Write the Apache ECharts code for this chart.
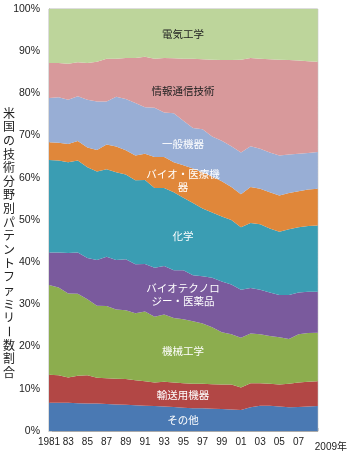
<!DOCTYPE html>
<html>
<head>
<meta charset="utf-8">
<script src="https://cdn.jsdelivr.net/npm/echarts@6/dist/echarts.min.js"></script>
<style>
html,body{margin:0;padding:0;background:#fff;}
#c{width:350px;height:456px;}
</style>
</head>
<body>
<div id="c"></div>
<script>
const years = ['1981','1982','1983','1984','1985','1986','1987','1988','1989','1990','1991','1992','1993','1994','1995','1996','1997','1998','1999','2000','2001','2002','2003','2004','2005','2006','2007','2008','2009'];

const others      = [6.7,6.7,6.7,6.6,6.5,6.5,6.4,6.3,6.2,6.1,6.0,5.9,5.8,5.7,5.5,5.4,5.4,5.3,5.2,5.1,5.0,5.6,6.0,6.0,5.8,5.6,5.7,5.8,5.9];
const transport   = [6.6,6.5,6.0,6.5,6.7,6.1,6.1,6.1,6.1,5.9,5.8,5.6,5.9,5.8,5.8,5.8,5.8,5.8,5.8,5.9,5.3,5.7,5.3,5.2,5.2,5.6,5.8,5.9,5.9];
const mechanical  = [21.3,20.8,19.9,19.4,18.0,17.1,17.1,16.4,16.3,15.9,16.5,15.6,15.9,15.3,15.2,14.8,14.3,13.5,12.4,11.9,11.8,11.8,11.6,11.3,11.2,10.6,11.4,11.5,11.5];
const biotechPharma = [7.7,8.3,9.6,9.8,9.8,10.8,11.7,11.7,12.1,11.6,11.3,11.6,11.5,11.3,11.6,10.9,11.2,11.7,12.0,11.8,11.4,10.8,10.6,10.3,10.0,10.4,9.9,9.8,9.7];
const chemistry   = [21.9,21.8,21.5,21.8,21.5,21.0,20.7,20.8,20.1,19.9,19.9,18.9,18.5,18.5,17.2,17.1,16.0,15.5,15.4,15.3,14.8,15.4,15.5,15.2,15.0,15.6,15.5,15.6,15.7];
const bioMedical  = [4.2,4.2,4.3,4.6,4.7,5.1,5.9,6.1,5.7,5.9,6.2,7.3,7.3,7.1,7.7,8.2,8.6,8.5,8.4,7.8,7.8,8.5,8.4,8.6,8.6,8.6,8.5,8.6,8.7];
const generalMach = [10.5,10.8,10.5,10.6,11.3,11.5,10.2,11.8,12.2,12.4,11.0,11.7,10.6,11.6,10.5,9.6,10.2,9.5,9.6,9.7,9.9,9.7,9.5,9.4,9.5,9.1,8.9,8.7,8.7];
const ict         = [8.3,8.1,8.5,8.1,8.7,9.4,10.1,9.0,9.7,10.7,12.0,11.6,12.9,13.0,14.7,16.4,16.6,18.2,19.1,20.4,22.0,20.9,21.3,22.1,22.7,22.4,22.1,21.7,21.4];
const electrical  = [12.8,12.8,13.0,12.6,12.8,12.5,11.8,11.8,11.6,11.6,11.3,11.8,11.6,11.7,11.8,11.8,11.9,12.0,12.1,12.1,12.0,11.6,11.8,11.9,12.0,12.1,12.2,12.4,12.5];

const seriesNames = ['その他','輸送用機器','機械工学','バイオテクノロジー・医薬品','化学','バイオ・医療機器','一般機器','情報通信技術','電気工学'];
const yAxisTitle = '米国の技術分野別パテントファミリー数割合';
const lastYearLabel = '2009年';

const seriesData = [others, transport, mechanical, biotechPharma, chemistry, bioMedical, generalMach, ict, electrical];
const colors = ['#4a79b3','#b24745','#8cad4e','#7a5a9d','#3a9db3','#e0873a','#98aed5','#d8999b','#bdd59b'];

// in-area labels: [text, y-center, color]
const areaLabels = [
  ['電気工学', 34, '#222'],
  ['情報通信技術', 91, '#222'],
  ['一般機器', 144, '#fff'],
  ['バイオ・医療機\n器', 181, '#fff'],
  ['化学', 236, '#fff'],
  ['バイオテクノロ\nジー・医薬品', 295, '#fff'],
  ['機械工学', 351, '#fff'],
  ['輸送用機器', 395, '#fff'],
  ['その他', 420, '#fff']
];

const chart = echarts.init(document.getElementById('c'), null, {renderer:'canvas'});

const graphics = [];
areaLabels.forEach(function(l){
  graphics.push({
    type:'text', x:183, y:l[1], z:100,
    style:{text:l[0], fill:l[2], align:'center', verticalAlign:'middle',
      fontSize:10.5, fontFamily:'"Noto Sans CJK JP", sans-serif', lineHeight:13}
  });
});
Array.from(yAxisTitle).forEach(function(ch, i){
  graphics.push({
    type:'text', x:9, y:113 + i*13.65, rotation: ch === 'ー' ? -Math.PI/2 : 0,
    style:{text:ch, fill:'#222', align:'center', verticalAlign:'middle',
      fontSize:12, fontFamily:'"Noto Sans CJK JP", sans-serif'}
  });
});

chart.setOption({
  animation:false,
  color: colors,
  grid:{left:49, right:32, top:9, bottom:25, show:true, borderColor:'#bbb', borderWidth:1},
  xAxis:{
    type:'category', data:years, boundaryGap:false,
    axisLine:{lineStyle:{color:'#aaa'}},
    axisTick:{show:true, inside:true, length:3, interval:0, lineStyle:{color:'#ccc'}},
    axisLabel:{interval:1, color:'#222', fontSize:10, margin:6,
      fontFamily:'"Liberation Sans", Arial, sans-serif',
      formatter:function(v, i){ if (i===0) return v; if (v==='2009') return ''; return v.slice(2); }},
    name: lastYearLabel, nameLocation:'end', nameGap:-3,
    nameTextStyle:{color:'#222', fontSize:10, align:'left', verticalAlign:'top', padding:[11,0,0,0],
      fontFamily:'"Liberation Sans", "Noto Sans CJK JP", sans-serif'}
  },
  yAxis:{
    type:'value', min:0, max:100, interval:10,
    splitLine:{show:false},
    axisLine:{show:true, lineStyle:{color:'#aaa'}},
    axisTick:{show:true, inside:true, length:3, lineStyle:{color:'#ccc'}},
    axisLabel:{formatter:'{value}%', color:'#222', fontSize:10.5, margin:9,
      fontFamily:'"Liberation Sans", Arial, sans-serif'}
  },
  series: seriesNames.map(function(n, i){
    return {
      name:n, type:'line', stack:'total', data:seriesData[i],
      symbol:'none', smooth:false,
      lineStyle:{width:0},
      areaStyle:{color:colors[i], opacity:1}
    };
  }),
  graphic: graphics
});
</script>
</body>
</html>
